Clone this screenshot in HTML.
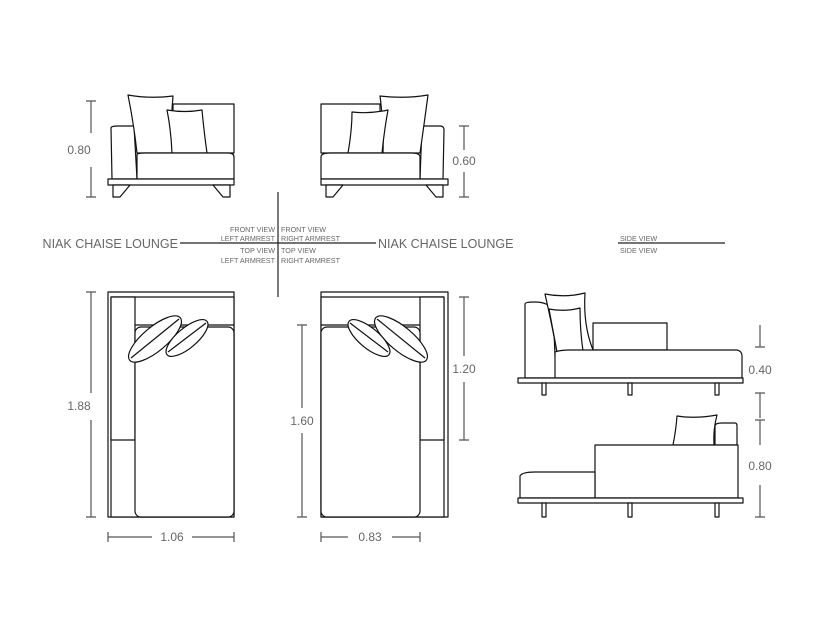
<!DOCTYPE html>
<html><head><style>
html,body{margin:0;padding:0;background:#fff;}
svg{display:block;}
text{font-family:"Liberation Sans",sans-serif;fill:#666;}
</style></head><body>
<svg width="815" height="636" viewBox="0 0 815 636" xmlns="http://www.w3.org/2000/svg">
<g fill="#fff" stroke="#111" stroke-width="1.2" stroke-linejoin="round">
<!-- Front view left -->
<rect x="173" y="104" width="61" height="49"/>
<path d="M111 128 Q111 126 118 126 L134 126 L137 179 L112 179 Z"/>
<path d="M128 95 Q150 99 173 96 Q170 125 175 153 L137 153 Q134 125 128 95 Z"/>
<path d="M167 110 Q185 113 202 110 Q204 132 207 153 L172 153 Q171 130 167 110 Z"/>
<path d="M137 155 Q137 153 145 153 L228 153 Q234 153 234 157 L234 179 L137 179 Z"/>
<rect x="108" y="179" width="126" height="6"/>
<path d="M113 185 L130 185 L120 197 L113 197 Z"/>
<path d="M213 185 L230 185 L230 197 L223 197 Z"/>
<!-- Front view right -->
<rect x="321" y="104" width="59" height="49"/>
<path d="M422 126 L440 126 Q444 126 444 130 L443 179 L420 179 Z"/>
<path d="M380 96 Q405 99 428 95 Q424 125 420 153 L383 153 Q384 125 380 96 Z"/>
<path d="M352 112 Q370 114 388 110 Q384 132 382 153 L348 153 Q352 130 352 112 Z"/>
<path d="M321 157 Q321 153 330 153 L412 153 Q420 153 420 157 L420 179 L321 179 Z"/>
<rect x="321" y="179" width="127" height="6"/>
<path d="M326 185 L343 185 L333 197 L326 197 Z"/>
<path d="M426 185 L443 185 L443 197 L436 197 Z"/>
<!-- Top view left -->
<rect x="108" y="292" width="126" height="225"/>
<rect x="111" y="297" width="123" height="220"/>
<rect x="111" y="297" width="24" height="143"/>
<line x1="135" y1="325" x2="234" y2="325"/>
<rect x="135" y="327" width="99" height="190" rx="6"/>
<ellipse cx="155" cy="339" rx="33" ry="12" transform="rotate(-40 155 339)"/>
<line x1="131" y1="358" x2="179" y2="319"/>
<ellipse cx="187" cy="338" rx="26" ry="10" transform="rotate(-40 187 338)"/>
<line x1="168" y1="352" x2="206" y2="323"/>
<!-- Top view right -->
<rect x="321" y="292" width="127" height="225"/>
<rect x="321" y="297" width="123" height="220"/>
<rect x="420" y="297" width="24" height="143"/>
<line x1="321" y1="325" x2="420" y2="325"/>
<rect x="321" y="327" width="99" height="190" rx="6"/>
<ellipse cx="401" cy="339" rx="33" ry="12" transform="rotate(40 401 339)"/>
<line x1="377" y1="319" x2="425" y2="358"/>
<ellipse cx="369" cy="338" rx="26" ry="10" transform="rotate(40 369 338)"/>
<line x1="350" y1="323" x2="388" y2="352"/>
<!-- Side view top -->
<rect x="593" y="323" width="74" height="27"/>
<path d="M525 304 Q525 302 535 302 Q548 302 553 310 L556 378 L525 378 Z"/>
<path d="M545 294 Q565 298 585 293 Q583 325 593 350 L557 352 Q552 325 545 294 Z"/>
<path d="M549 309 Q565 312 580 308 Q580 330 583 351 L557 352 Q553 330 549 309 Z"/>
<path d="M555 352 Q560 350 570 350 L737 350 Q742 351 742 356 L742 378 L555 378 Z"/>
<rect x="518" y="378" width="225" height="5"/>
<rect x="542" y="383" width="4" height="12"/>
<rect x="628" y="383" width="4" height="12"/>
<rect x="715" y="383" width="4" height="12"/>
<!-- Side view bottom -->
<path d="M715 426 Q715 423 722 423 L735 423 Q737 423 737 426 L737 445 L715 445 Z"/>
<path d="M677 416 Q695 419 717 415 Q713 430 714 445 L673 445 Q676 430 677 416 Z"/>
<rect x="595" y="445" width="143" height="53"/>
<path d="M520 476 Q522 472 535 472 L595 472 L595 498 L520 498 Z"/>
<rect x="518" y="498" width="225" height="5"/>
<rect x="542" y="503" width="4" height="14"/>
<rect x="628" y="503" width="4" height="14"/>
<rect x="715" y="503" width="4" height="14"/>
</g>
<!-- dimension lines -->
<g stroke="#555" stroke-width="1.2" fill="none">
<path d="M86 101 H96 M91 101 V133 M91 167 V197 M86 197 H96"/>
<path d="M459 126 H469 M464 126 V150 M464 172 V197 M459 197 H469"/>
<path d="M86 292 H96 M91 292 V393 M91 420 V517 M86 517 H96"/>
<path d="M108 532 V542 M108 537 H152 M192 537 H234 M234 532 V542"/>
<path d="M297 325 H307 M302 325 V408 M302 433 V517 M297 517 H307"/>
<path d="M321 532 V542 M321 537 H348 M392 537 H420 M420 532 V542"/>
<path d="M459 297 H469 M464 297 V356 M464 382 V440 M459 440 H469"/>
<path d="M755 347 H765 M760 325 V347"/>
<path d="M755 393 H765 M760 393 V418 M755 420 H765 M760 420 V445"/>
<path d="M760 485 V517 M755 517 H765"/>
</g>
<g stroke="#222" stroke-width="1.2">
<line x1="278" y1="192" x2="278" y2="297"/>
<line x1="180" y1="243" x2="376" y2="243"/>
<line x1="618" y1="243" x2="725" y2="243"/>
</g>
<g font-size="12">
<text x="79" y="154" text-anchor="middle">0.80</text>
<text x="464" y="165" text-anchor="middle">0.60</text>
<text x="79" y="410" text-anchor="middle">1.88</text>
<text x="172" y="541" text-anchor="middle">1.06</text>
<text x="302" y="425" text-anchor="middle">1.60</text>
<text x="370" y="541" text-anchor="middle">0.83</text>
<text x="464" y="373" text-anchor="middle">1.20</text>
<text x="760" y="374" text-anchor="middle">0.40</text>
<text x="760" y="470" text-anchor="middle">0.80</text>
</g>
<g font-size="12.5">
<text x="178" y="248" text-anchor="end">NIAK CHAISE LOUNGE</text>
<text x="378" y="248">NIAK CHAISE LOUNGE</text>
</g>
<g font-size="7.2">
<text x="275" y="232" text-anchor="end">FRONT VIEW</text>
<text x="275" y="241" text-anchor="end">LEFT ARMREST</text>
<text x="275" y="253" text-anchor="end">TOP VIEW</text>
<text x="275" y="263" text-anchor="end">LEFT ARMREST</text>
<text x="281" y="232">FRONT VIEW</text>
<text x="281" y="241">RIGHT ARMREST</text>
<text x="281" y="253">TOP VIEW</text>
<text x="281" y="263">RIGHT ARMREST</text>
<text x="620" y="241">SIDE VIEW</text>
<text x="620" y="253">SIDE VIEW</text>
</g>
</svg>
</body></html>
